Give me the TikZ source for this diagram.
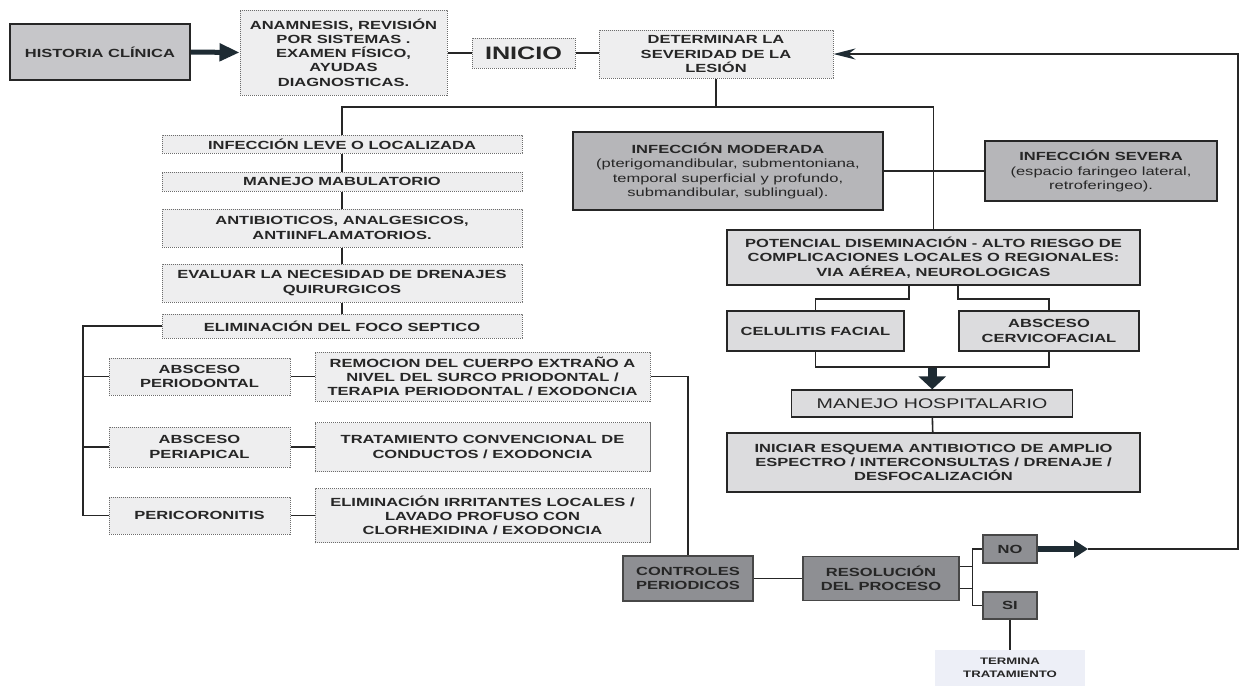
\documentclass[tikz,border=0pt]{standalone}
\usepackage{fontspec}
\setmainfont{Liberation Sans}[FakeStretch=1.4]
\usetikzlibrary{arrows.meta,calc}
\definecolor{ink}{HTML}{262626}
\definecolor{arrowc}{HTML}{1E2B33}
\definecolor{lightfill}{HTML}{EEEEEF}
\definecolor{midfill}{HTML}{DCDCDE}
\definecolor{grayfill}{HTML}{C6C6C9}
\definecolor{modfill}{HTML}{B6B6B9}
\definecolor{darkfill}{HTML}{8E8F93}
\definecolor{termfill}{HTML}{EDEFF7}
\begin{document}
\begin{tikzpicture}[x=1pt,y=-1pt,
  every node/.style={font=\fontsize{11.8}{14.3}\selectfont\bfseries, text=ink, align=center, inner sep=1pt},
  lbox/.style={draw=gray!85!black, dash pattern=on 1.2pt off 0.8pt, fill=lightfill, line width=1pt},
  mbox/.style={draw=ink, fill=midfill, line width=1.3pt},
  gbox/.style={draw=ink, fill=grayfill, line width=1.5pt},
  modbox/.style={draw=ink, fill=modfill, line width=1.5pt},
  dbox/.style={draw=ink!85, fill=darkfill, line width=1.3pt},
  conn/.style={draw=ink, line width=1.6pt},
  fatarrow/.style={draw=arrowc, line width=#1},
]
\fill[white] (0,0) rectangle (1240,686);
\useasboundingbox (0,0) rectangle (1240,686);

% top row
\node[gbox, minimum width=180pt, minimum height=56pt] (hist) at (100,52) {HISTORIA CLÍNICA};
\node[lbox, minimum width=207pt, minimum height=85pt] (anam) at (343.5,52.5) {ANAMNESIS, REVISIÓN\\POR SISTEMAS .\\EXAMEN FÍSICO,\\AYUDAS\\DIAGNOSTICAS.};
\node[lbox, minimum width=103pt, minimum height=30pt, font=\fontsize{18}{20}\selectfont\bfseries] (inicio) at (523.5,53) {INICIO};
\node[lbox, minimum width=234pt, minimum height=48pt] (determ) at (716,54) {DETERMINAR LA\\SEVERIDAD DE LA\\LESIÓN};

% left column
\node[lbox, minimum width=360pt, minimum height=18pt] (leve) at (342,144) {INFECCIÓN LEVE O LOCALIZADA};
\node[lbox, minimum width=360pt, minimum height=19pt] (manejo) at (342,181.5) {MANEJO MABULATORIO};
\node[lbox, minimum width=360pt, minimum height=38pt] (antib) at (342,228) {ANTIBIOTICOS, ANALGESICOS,\\ANTIINFLAMATORIOS.};
\node[lbox, minimum width=360pt, minimum height=38pt] (evalua) at (342,283) {EVALUAR LA NECESIDAD DE DRENAJES\\QUIRURGICOS};
\node[lbox, minimum width=360pt, minimum height=24pt] (elim) at (342,326) {ELIMINACIÓN DEL FOCO SEPTICO};

\node[lbox, minimum width=181pt, minimum height=37pt] (aperio) at (199.5,376.5) {ABSCESO\\PERIODONTAL};
\node[lbox, minimum width=181pt, minimum height=40pt] (apical) at (199.5,447) {ABSCESO\\PERIAPICAL};
\node[lbox, minimum width=181pt, minimum height=37pt] (peric) at (199.5,515.5) {PERICORONITIS};

\node[lbox, minimum width=335pt, minimum height=49pt] (remoc) at (482.5,376.5) {REMOCION DEL CUERPO EXTRAÑO A\\NIVEL DEL SURCO PRIODONTAL /\\TERAPIA PERIODONTAL / EXODONCIA};
\node[lbox, minimum width=335pt, minimum height=49pt] (tratam) at (482.5,447) {TRATAMIENTO CONVENCIONAL DE\\CONDUCTOS / EXODONCIA};
\node[lbox, minimum width=335pt, minimum height=54pt] (elimirr) at (482.5,515.5) {ELIMINACIÓN IRRITANTES LOCALES /\\LAVADO PROFUSO CON\\CLORHEXIDINA / EXODONCIA};

% middle / right
\node[modbox, minimum width=310pt, minimum height=78pt] (mod) at (728,171) {INFECCIÓN MODERADA\\\mdseries(pterigomandibular, submentoniana,\\\mdseries temporal superficial y profundo,\\\mdseries submandibular, sublingual).};
\node[modbox, minimum width=232pt, minimum height=60pt] (sev) at (1101,171) {INFECCIÓN SEVERA\\\mdseries(espacio faringeo lateral,\\\mdseries retroferingeo).};

\node[mbox, minimum width=413pt, minimum height=55pt] (pot) at (933.5,257.5) {POTENCIAL DISEMINACIÓN - ALTO RIESGO DE\\COMPLICACIONES LOCALES O REGIONALES:\\VIA AÉREA, NEUROLOGICAS};
\node[mbox, minimum width=177pt, minimum height=40pt] (cel) at (815.5,331) {CELULITIS FACIAL};
\node[mbox, minimum width=180pt, minimum height=40pt] (absc) at (1049,331) {ABSCESO\\CERVICOFACIAL};
\node[mbox, minimum width=281pt, minimum height=27pt, font=\fontsize{14}{16}\selectfont\mdseries] (hosp) at (932,403.5) {MANEJO HOSPITALARIO};
\node[mbox, minimum width=413pt, minimum height=59pt] (inic) at (933.5,462.5) {INICIAR ESQUEMA ANTIBIOTICO DE AMPLIO\\ESPECTRO / INTERCONSULTAS / DRENAJE /\\DESFOCALIZACIÓN};

% bottom
\node[dbox, minimum width=130pt, minimum height=45pt] (contr) at (688,578.5) {CONTROLES\\PERIODICOS};
\node[dbox, minimum width=156pt, minimum height=44pt] (resol) at (881,578.5) {RESOLUCIÓN\\DEL PROCESO};
\node[dbox, minimum width=54pt, minimum height=28pt] (no) at (1010,549) {NO};
\node[dbox, minimum width=54pt, minimum height=27pt] (si) at (1010,605.5) {SI};
\node[fill=termfill, minimum width=150pt, minimum height=36pt, font=\fontsize{9.4}{13.5}\selectfont\bfseries] (term) at (1010,668) {TERMINA\\TRATAMIENTO};

% coordinates
\coordinate (hy) at (0,107);
\coordinate (lx) at (83,0);
\coordinate (by) at (0,299);
\coordinate (jy) at (0,367);
\coordinate (nt) at (1088,549);
\coordinate (rc) at (1238,549);

% connectors top
\draw[fatarrow=5pt, -{Triangle[length=20pt,width=17pt]}] (hist.east) -- (anam.west);
\draw[conn] (inicio.west) -- (inicio.west -| anam.east);
\draw[conn] (inicio.east) -- (inicio.east -| determ.west);
\draw[conn] (determ.south) -- (determ.south |- hy);
\draw[conn] (leve.north) -- (leve.north |- hy) -- (pot.north |- hy) -- (pot.north);
\draw[conn] (mod.east) -- (mod.east -| sev.west);

% left column
\draw[conn] (leve) -- (manejo);
\draw[conn] (manejo) -- (antib);
\draw[conn] (antib) -- (evalua);
\draw[conn] (evalua) -- (elim);
\draw[conn] (elim.west) -- (elim.west -| lx) -- (peric.west -| lx) -- (peric.west);
\draw[conn] (aperio.west -| lx) -- (aperio.west);
\draw[conn] (apical.west -| lx) -- (apical.west);
\draw[conn] (aperio.east) -- (aperio.east -| remoc.west);
\draw[conn] (apical.east) -- (apical.east -| tratam.west);
\draw[conn] (peric.east) -- (peric.east -| elimirr.west);
\draw[conn] (remoc.east) -| (contr.north);

% right column
\draw[conn] ([xshift=-24.5pt]pot.south) -- ([xshift=-24.5pt]pot.south |- by) -| (cel.north);
\draw[conn] ([xshift=24.5pt]pot.south) -- ([xshift=24.5pt]pot.south |- by) -| (absc.north);
\draw[conn] (cel.south) -- (cel.south |- jy) -- (absc.south |- jy) -- (absc.south);
\coordinate (ja) at ($(cel.south |- jy)!0.5!(absc.south |- jy)$);
\draw[fatarrow=9pt, -{Triangle[length=13pt,width=27pt]}] ([yshift=-1pt]ja) -- (ja |- hosp.north);
\draw[conn] (hosp) -- (inic);

% bottom
\draw[conn] (contr) -- (resol);
\draw[conn] ([yshift=-10pt]resol.east) -- ++(13,0) |- (no.west);
\draw[conn] ([yshift=12pt]resol.east) -- ++(13,0) |- (si.west);
\draw[conn] (si.south) -- (term.north);
\draw[fatarrow=6pt, -{Triangle[length=14pt,width=17pt]}] (no.east) -- (nt);
\draw[conn, -{Stealth[length=22pt,width=11pt,color=arrowc]}] (nt) -- (rc) -- (rc |- determ.east) -- (determ.east);
\end{tikzpicture}
\end{document}
